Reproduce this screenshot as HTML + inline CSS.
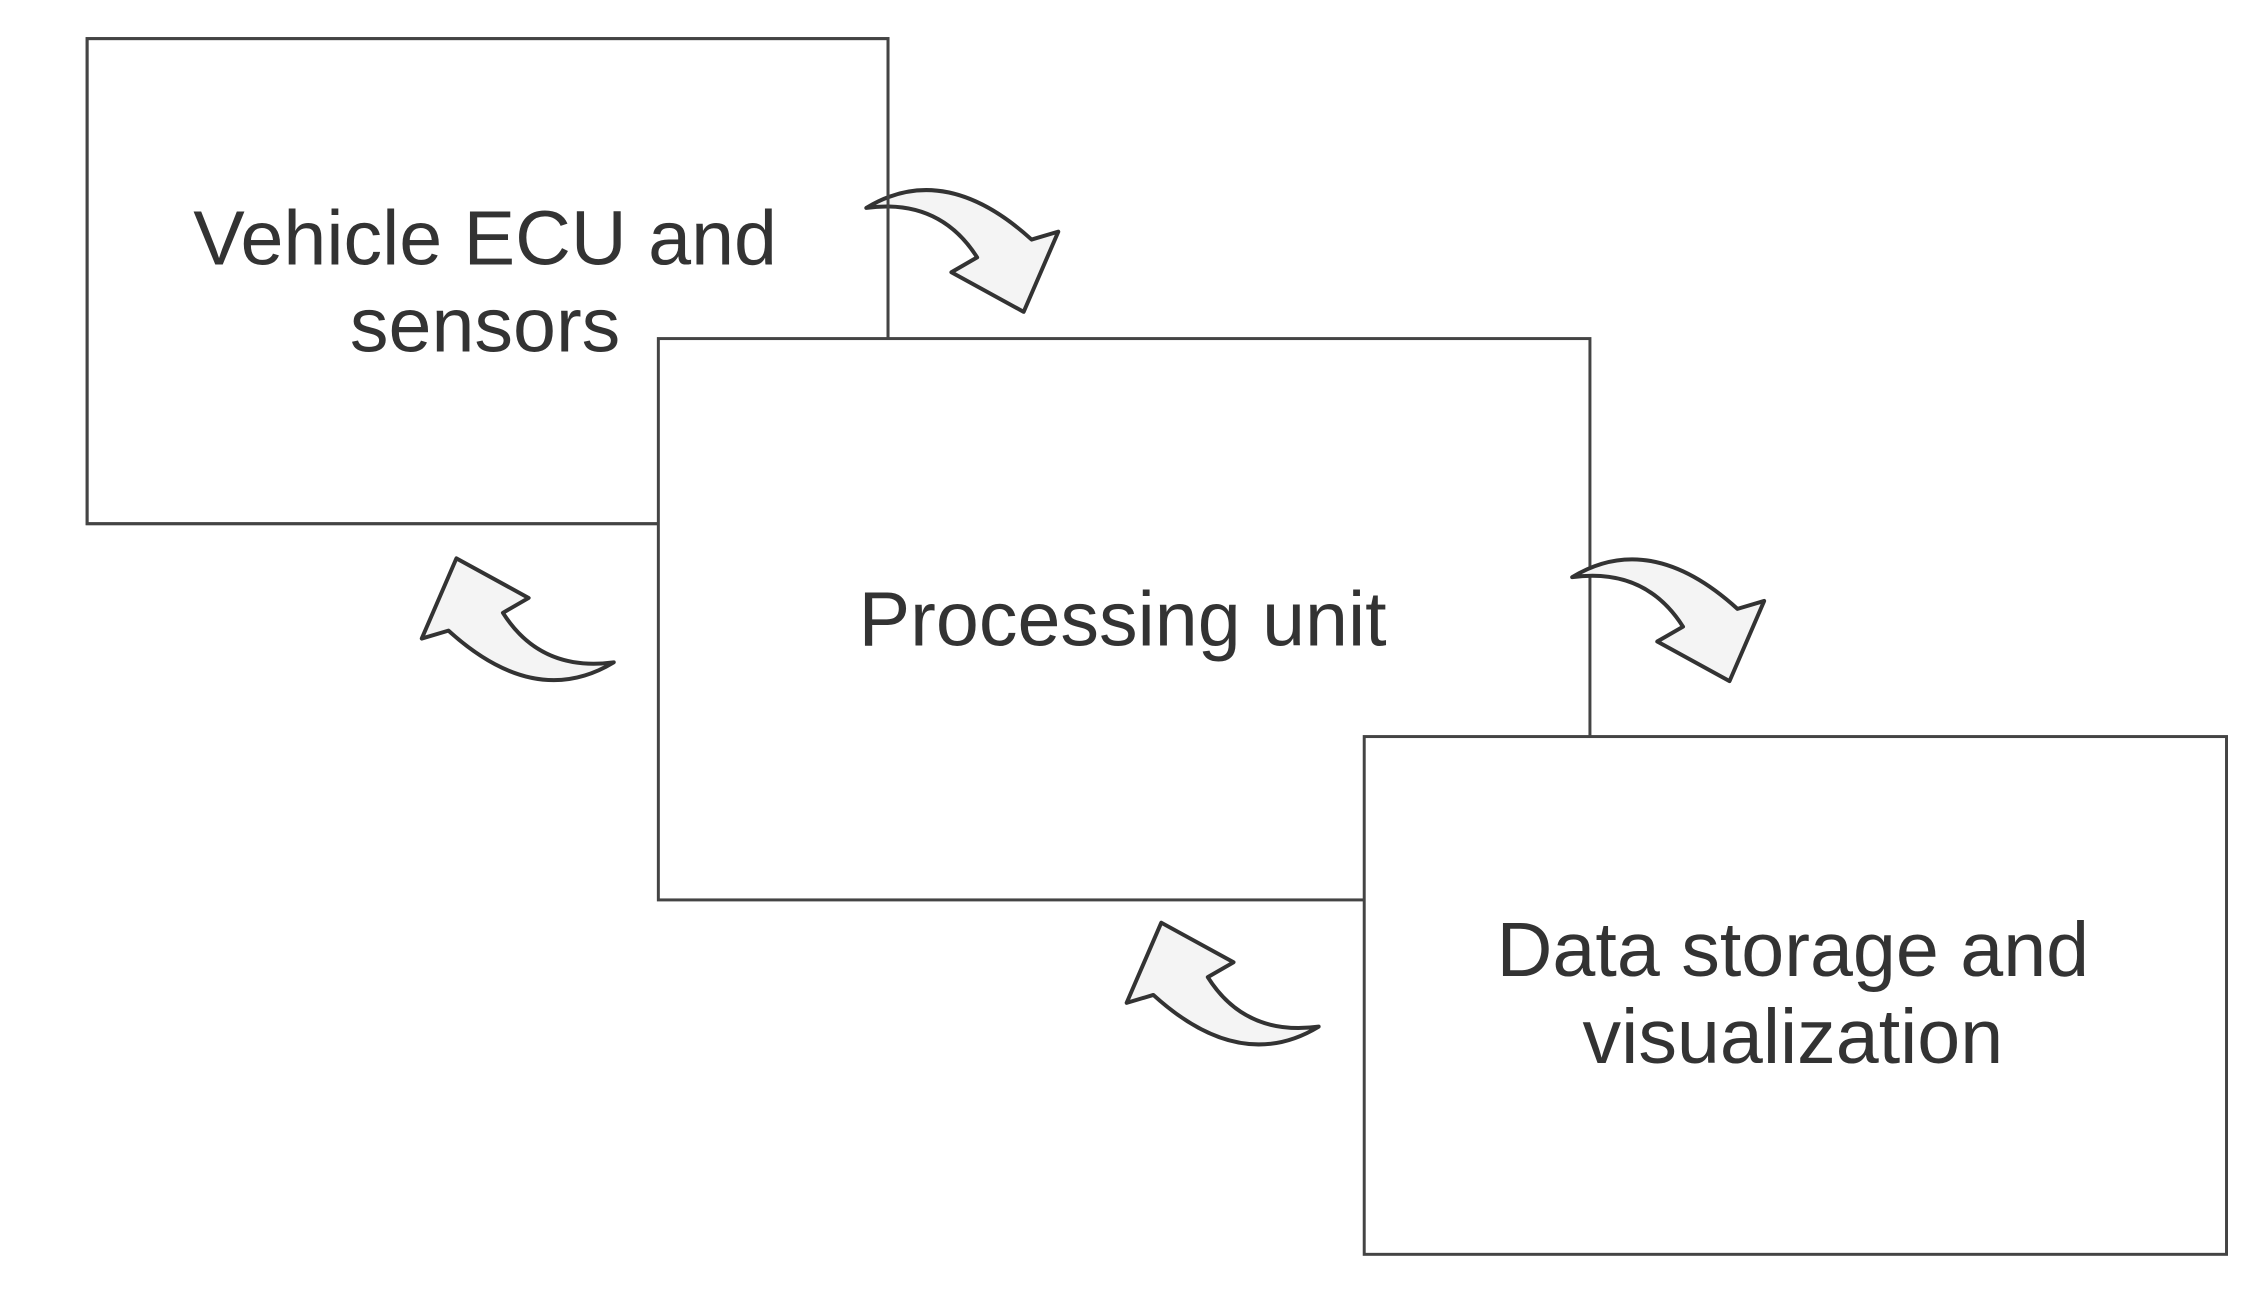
<!DOCTYPE html>
<html><head><style>html,body{margin:0;padding:0;background:#fff}svg{display:block}</style></head>
<body>
<svg width="2268" height="1296" viewBox="0 0 2268 1296" xmlns="http://www.w3.org/2000/svg">
<defs>
<path id="arr" d="M866,208 Q945,160 1033,240 L1060,232 L1025,313 L952,273 L978,258 Q940,198 866,208 Z" fill="#f4f4f4" stroke="#333" stroke-width="4" stroke-linejoin="round"/>
</defs>
<g transform="scale(0.99)">
<rect x="88" y="39" width="809" height="490" fill="#fff" stroke="#444" stroke-width="3"/>
<use href="#arr" transform="translate(9,2)"/>
<rect x="88" y="39" width="809" height="490" fill="none" stroke="#444" stroke-width="3"/>
<rect x="665" y="342" width="941" height="567" fill="#fff" stroke="#444" stroke-width="3"/>
<use href="#arr" transform="translate(722,375)"/>
<use href="#arr" transform="translate(514,627) rotate(180) translate(-972,-250)"/>
<rect x="1378" y="744" width="871" height="523" fill="#fff" stroke="#444" stroke-width="3"/>
<use href="#arr" transform="translate(1226,995) rotate(180) translate(-972,-250)"/>
<g font-family="Liberation Sans, sans-serif" font-size="78" fill="#333" text-anchor="middle">
<text x="490" y="267">Vehicle ECU and</text>
<text x="490" y="355">sensors</text>
<text x="1134" y="652">Processing unit</text>
<text x="1811" y="986">Data storage and</text>
<text x="1811" y="1074">visualization</text>
</g>
</g>
</svg>
</body></html>
